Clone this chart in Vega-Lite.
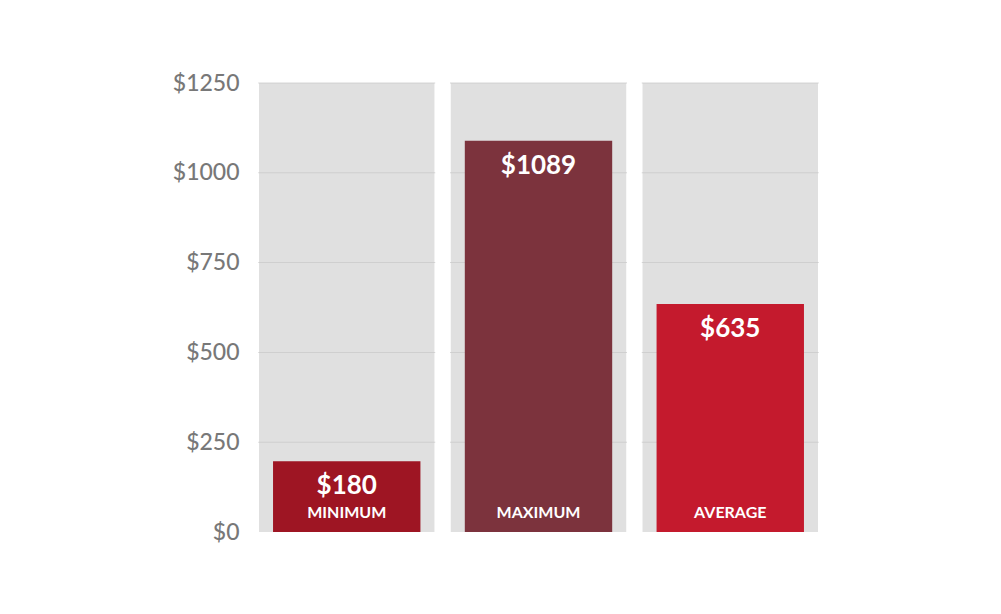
{
  "$schema": "https://vega.github.io/schema/vega-lite/v6.json",
  "autosize": "none",
  "width": 559,
  "height": 449,
  "padding": {"left": 259, "top": 83, "right": 183, "bottom": 82},
  "background": "#ffffff",
  "config": {"view": {"stroke": null}, "font": "Lato"},
  "datasets": {
    "bars": [
      {"category": "MINIMUM", "label": 180, "value": 197},
      {"category": "MAXIMUM", "label": 1089, "value": 1089},
      {"category": "AVERAGE", "label": 635, "value": 635}
    ],
    "grid": [
      {"category": "MINIMUM", "level": [250, 500, 750, 1000, 1250]},
      {"category": "MAXIMUM", "level": [250, 500, 750, 1000, 1250]},
      {"category": "AVERAGE", "level": [250, 500, 750, 1000, 1250]}
    ]
  },
  "encoding": {
    "x": {
      "field": "category",
      "type": "nominal",
      "sort": ["MINIMUM", "MAXIMUM", "AVERAGE"],
      "scale": {"paddingInner": 0.085, "paddingOuter": 0},
      "axis": null
    }
  },
  "layer": [
    {
      "data": {"name": "bars"},
      "mark": {"type": "bar", "color": "#e0e0e0", "width": {"band": 1}},
      "encoding": {
        "y": {
          "datum": 1250,
          "type": "quantitative",
          "scale": {"domain": [0, 1250], "nice": false},
          "axis": {
            "values": [0, 250, 500, 750, 1000, 1250],
            "format": "$d",
            "domain": false,
            "ticks": false,
            "grid": false,
            "labelFont": "Lato",
            "labelFontSize": 23,
            "labelFontWeight": 500,
            "labelColor": "#787878",
            "labelPadding": 20,
            "labelOffset": 0,
            "title": null
          }
        },
        "y2": {"datum": 0}
      }
    },
    {
      "data": {"name": "grid"},
      "transform": [{"flatten": ["level"]}],
      "mark": {"type": "tick", "color": "#c8c8c8", "size": 177, "thickness": 1, "orient": "horizontal"},
      "encoding": {
        "y": {"field": "level", "type": "quantitative"}
      }
    },
    {
      "data": {"name": "bars"},
      "mark": {"type": "bar", "width": {"band": 0.84}},
      "encoding": {
        "y": {"field": "value", "type": "quantitative"},
        "color": {
          "field": "category",
          "type": "nominal",
          "scale": {"domain": ["MINIMUM", "MAXIMUM", "AVERAGE"], "range": ["#9e1523", "#7c333d", "#c41a2d"]},
          "legend": null
        }
      }
    },
    {
      "data": {"name": "bars"},
      "mark": {"type": "text", "color": "#ffffff", "font": "Lato", "fontWeight": "bold", "fontSize": 26, "baseline": "middle", "dy": 25},
      "encoding": {
        "y": {"field": "value", "type": "quantitative"},
        "text": {"field": "label", "type": "quantitative", "format": "$d"}
      }
    },
    {
      "data": {"name": "bars"},
      "mark": {"type": "text", "color": "#ffffff", "font": "Lato", "fontWeight": "bold", "fontSize": 16, "baseline": "middle", "dy": -19},
      "encoding": {
        "y": {"datum": 0, "type": "quantitative"},
        "text": {"field": "category", "type": "nominal"}
      }
    }
  ]
}
